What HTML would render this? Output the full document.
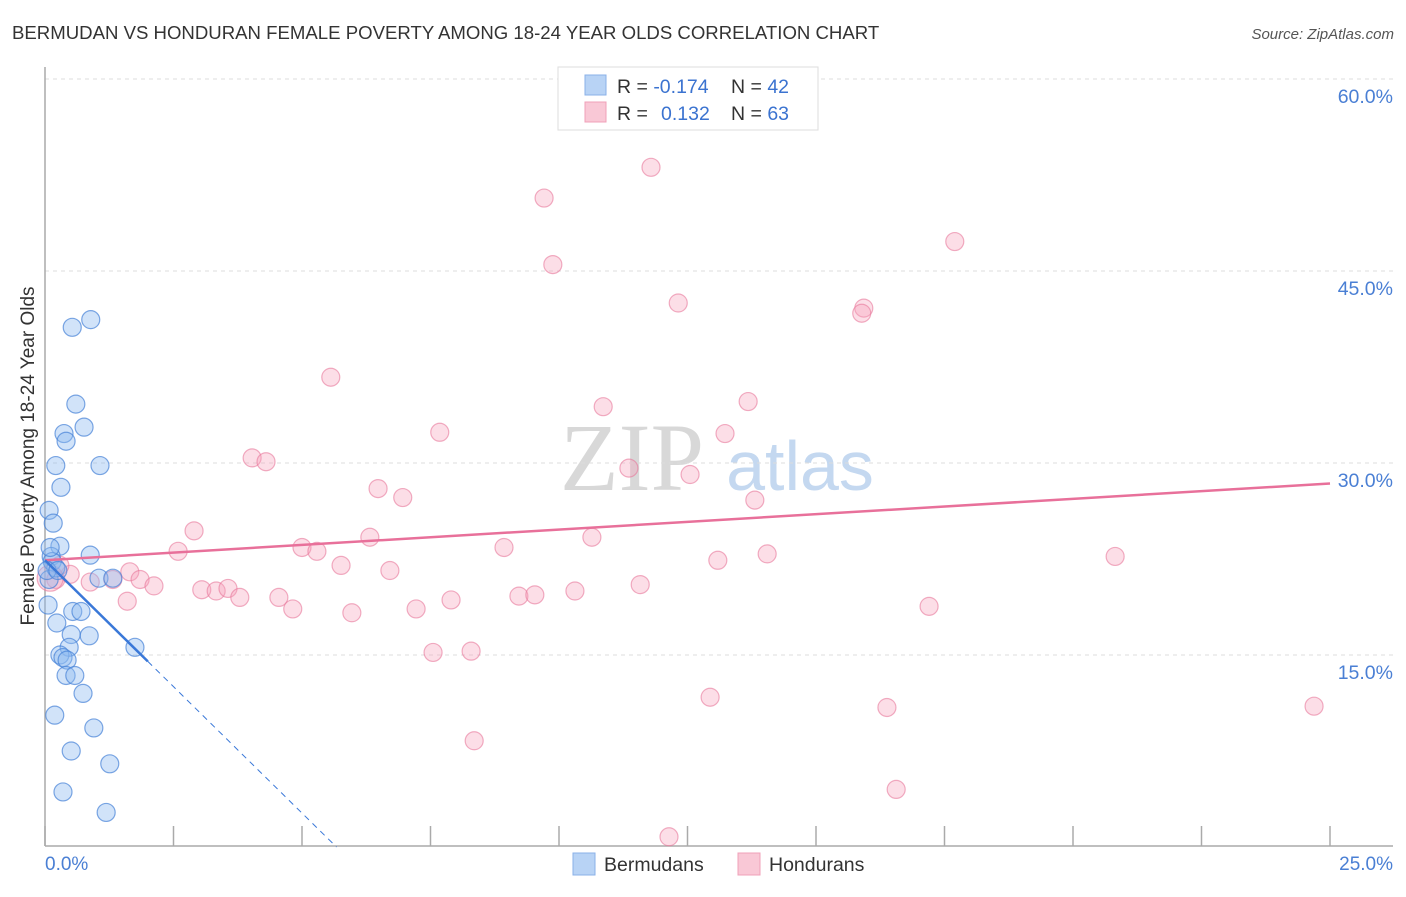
<!DOCTYPE html>
<html><head><meta charset="utf-8"><style>
body{margin:0;background:#fff;width:1406px;height:892px;overflow:hidden;font-family:"Liberation Sans",sans-serif}
</style></head><body>
<svg id="chart" width="1406" height="892" xmlns="http://www.w3.org/2000/svg">
<text x="12" y="39" font-size="18.6" fill="#333">BERMUDAN VS HONDURAN FEMALE POVERTY AMONG 18-24 YEAR OLDS CORRELATION CHART</text>
<text x="1394" y="39" font-size="15" fill="#555" font-style="italic" text-anchor="end">Source: ZipAtlas.com</text>
<text x="632" y="490" font-size="96" fill="#d8d8d8" font-family="Liberation Serif,serif" text-anchor="middle">ZIP</text>
<text x="800" y="490" font-size="70" fill="#c4d8f0" text-anchor="middle">atlas</text>
<g id="grid"></g>
<line x1="45" y1="67" x2="45" y2="846" stroke="#aaa" stroke-width="1.5"/>
<line x1="45" y1="846" x2="1393" y2="846" stroke="#aaa" stroke-width="1.5"/>
<text transform="translate(34,456) rotate(-90)" font-size="19" fill="#333" text-anchor="middle">Female Poverty Among 18-24 Year Olds</text>
<text x="45" y="870" font-size="19" fill="#4a7fd4">0.0%</text>
<text x="1393" y="870" font-size="19" fill="#4a7fd4" text-anchor="end">25.0%</text>
<g id="points"></g>
<g id="trends"></g>
<g>
<rect x="558" y="67" width="260" height="63" fill="#fff" stroke="#ddd"/>
<rect x="585" y="75" width="21" height="20" fill="#b8d3f5" stroke="#8ab0e8"/>
<rect x="585" y="102" width="21" height="20" fill="#f9c8d6" stroke="#f0a0b8"/>
<text x="617" y="93" font-size="19.5" fill="#333">R = <tspan fill="#3b73d0">-0.174</tspan><tspan x="731">N = </tspan><tspan fill="#3b73d0">42</tspan></text>
<text x="617" y="120" font-size="19.5" fill="#333">R = <tspan x="661" fill="#3b73d0">0.132</tspan><tspan x="731">N = </tspan><tspan fill="#3b73d0">63</tspan></text>
</g>
<g><rect x="573" y="853" width="22" height="22" fill="#b8d3f5" stroke="#8ab0e8"/><text x="604" y="871" font-size="19.5" fill="#333">Bermudans</text></g>
<g><rect x="738" y="853" width="22" height="22" fill="#f9c8d6" stroke="#f0a0b8"/><text x="769" y="871" font-size="19.5" fill="#333">Hondurans</text></g>
</svg>
<script>
const yTicks=[15,30,45,60];
const yTickLabels=["15.0%","30.0%","45.0%","60.0%"];
const xTicks=[0,2.5,5,7.5,10,12.5,15,17.5,20,22.5,25];
const bermX=[0.89,0.53,0.60,0.76,0.37,0.41,0.21,1.07,0.31,0.08,0.16,0.29,0.88,0.12,0.14,0.08,0.21,1.05,1.32,0.06,0.54,0.70,0.23,0.51,0.86,0.47,1.75,0.29,0.35,0.43,0.41,0.58,0.74,0.19,0.95,0.51,1.26,0.35,1.19,0.10,0.04,0.25];
const bermY=[41.2,40.6,34.6,32.8,32.3,31.7,29.8,29.8,28.1,26.3,25.3,23.5,22.8,22.7,22.3,20.9,21.8,21.0,21.0,18.9,18.4,18.4,17.5,16.6,16.5,15.6,15.6,15.0,14.8,14.6,13.4,13.4,12.0,10.3,9.3,7.5,6.5,4.3,2.7,23.4,21.6,21.6];
const hondX=[11.79,9.71,9.88,17.70,12.32,15.93,15.89,5.56,10.86,13.68,7.68,13.23,4.03,4.30,11.36,12.55,6.48,6.96,13.81,2.90,6.32,10.64,5.00,5.29,8.93,2.59,14.05,20.82,13.09,5.76,6.71,1.65,1.85,1.32,0.88,0.21,0.49,0.29,2.12,3.05,3.33,3.56,3.79,1.60,4.55,4.82,5.97,7.22,7.90,9.22,9.53,10.31,11.58,17.20,7.55,8.29,12.94,16.38,24.69,8.35,16.56,12.14,0.10];
const hondY=[53.1,50.7,45.5,47.3,42.5,42.1,41.7,36.7,34.4,34.8,32.4,32.3,30.4,30.1,29.6,29.1,28.0,27.3,27.1,24.7,24.2,24.2,23.4,23.1,23.4,23.1,22.9,22.7,22.4,22.0,21.6,21.5,20.9,20.9,20.7,20.9,21.3,22.0,20.4,20.1,20.0,20.2,19.5,19.2,19.5,18.6,18.3,18.6,19.3,19.6,19.7,20.0,20.5,18.8,15.2,15.3,11.7,10.9,11.0,8.3,4.5,0.8,21.0];
const bermTrend=[22.4,-3.95];
const hondTrend=[22.4,0.24];
const xs=v=>45+v*51.4, ys=v=>847-v*12.8;
const NS="http://www.w3.org/2000/svg";
function mk(t,a,p){const e=document.createElementNS(NS,t);for(const k in a)e.setAttribute(k,a[k]);p.appendChild(e);return e;}
const grid=document.getElementById('grid');
yTicks.forEach((t,i)=>{
 const l=mk('line',{x1:45,x2:1393,y1:ys(t),y2:ys(t),stroke:'#ddd','stroke-dasharray':'4,4'},grid);
 
 
 const tx=mk('text',{x:1393,y:ys(t)+24,'font-size':19.5,fill:'#4a7fd4','text-anchor':'end'},grid);
 tx.textContent=yTickLabels[i];
 
 
});
xTicks.forEach(t=>{
 const l=mk('line',{x1:xs(t),x2:xs(t),y1:826,y2:846,stroke:'#aaa','stroke-width':1.5},grid);
 
 
});
const pts=document.getElementById('points');
hondX.forEach((x,i)=>{
 const c=mk('circle',{cx:xs(x),cy:ys(hondY[i]),r:i==hondX.length-1?13:9,fill:'rgba(245,160,185,0.35)',stroke:'rgba(232,120,155,0.6)','stroke-width':1.2},pts);
 
 
});
bermX.forEach((x,i)=>{
 const c=mk('circle',{cx:xs(x),cy:ys(bermY[i]),r:9,fill:'rgba(140,185,240,0.4)',stroke:'rgba(70,130,215,0.7)','stroke-width':1.2},pts);
 
 
});
const tr=document.getElementById('trends');
const hl=mk('line',{x1:xs(0),y1:ys(hondTrend[0]),x2:xs(25),y2:ys(hondTrend[0]+hondTrend[1]*25),stroke:'#e8709a','stroke-width':2.5},tr);


const bl=mk('line',{x1:xs(0),y1:ys(bermTrend[0]),x2:xs(2),y2:ys(bermTrend[0]+bermTrend[1]*2),stroke:'#3a78d8','stroke-width':2.5},tr);


const x0=-bermTrend[0]/bermTrend[1];
const bd=mk('line',{x1:xs(2),y1:ys(bermTrend[0]+bermTrend[1]*2),x2:xs(x0),y2:ys(0),stroke:'#3a78d8','stroke-width':1,'stroke-dasharray':'6,5'},tr);


</script>
</body></html>
